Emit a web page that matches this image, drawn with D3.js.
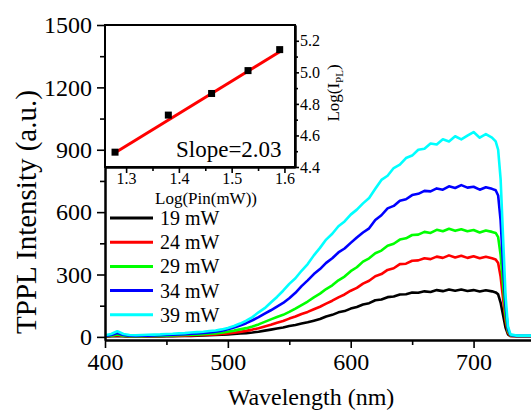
<!DOCTYPE html>
<html>
<head>
<meta charset="utf-8">
<script src="https://cdn.jsdelivr.net/npm/d3@7"></script>
<style>
  body { margin: 0; background: #fff; }
  svg { display: block; font-family: 'Liberation Serif', 'Times New Roman', serif; }
</style>
</head>
<body>
<div id="chart"></div>
<script>
// spectra (nm / a.u.)
let wavelength = [400, 405, 410, 415, 420, 425, 430, 435, 440, 445, 450, 455, 460, 465, 470, 475, 480, 485, 490, 495,
  500, 505, 510, 515, 520, 525, 530, 535, 540, 545, 550, 555, 560, 565, 570, 575, 580, 585, 590, 595,
  600, 605, 610, 615, 620, 625, 630, 635, 640, 645, 650, 655, 660, 665, 670, 675, 680, 685, 690, 695,
  700, 705, 710, 715, 718, 720, 722, 724, 726, 728, 730, 735, 740, 745, 750];

let p19 = [1, 3, 5, 3, 1, 1, 1, 2, 2, 2, 3, 3, 4, 4, 5, 6, 7, 8, 9, 10,
  12, 14, 16, 18, 21, 25, 30, 35, 40, 45, 52, 57, 64, 70, 78, 86, 98, 106, 118, 124,
  136, 144, 156, 162, 176, 180, 191, 194, 204, 205, 213, 212, 219, 216, 225, 220, 228, 222, 228, 221,
  225, 218, 224, 219, 214, 205, 165, 105, 45, 12, 4, 3, 3, 3, 3];

let p24 = [2, 4, 8, 4, 2, 2, 2, 3, 3, 3, 4, 4, 5, 6, 7, 8, 9, 10, 12, 14,
  17, 20, 24, 29, 35, 42, 50, 58, 68, 76, 88, 98, 110, 120, 133, 145, 160, 174, 190, 204,
  222, 236, 256, 270, 292, 302, 322, 330, 350, 352, 366, 368, 378, 374, 386, 380, 392, 382, 390, 380,
  388, 378, 385, 378, 372, 355, 290, 185, 80, 20, 5, 3, 3, 3, 3];

let p29 = [3, 6, 12, 6, 3, 3, 3, 4, 4, 5, 6, 7, 8, 9, 10, 11, 13, 15, 17, 20,
  25, 30, 36, 42, 50, 60, 72, 84, 96, 106, 120, 136, 153, 170, 190, 208, 230, 248, 272, 290,
  316, 335, 362, 378, 402, 415, 438, 448, 468, 474, 490, 492, 505, 500, 515, 508, 520, 510, 518, 508,
  514, 502, 512, 505, 500, 480, 395, 250, 105, 28, 7, 4, 4, 4, 4];

let p34 = [5, 9, 19, 9, 6, 5, 6, 6, 7, 8, 9, 10, 12, 13, 15, 17, 19, 21, 25, 30,
  37, 45, 55, 66, 80, 95, 112, 128, 146, 163, 186, 212, 244, 272, 302, 326, 356, 378, 406, 425,
  452, 478, 502, 522, 562, 585, 618, 630, 655, 662, 682, 688, 702, 700, 714, 708, 724, 716, 730, 718,
  722, 708, 720, 712, 705, 680, 560, 350, 150, 38, 9, 5, 5, 5, 5];

let p39 = [8, 14, 27, 14, 9, 8, 9, 10, 11, 12, 14, 15, 17, 18, 21, 23, 25, 28, 31, 36,
  43, 52, 64, 78, 95, 118, 138, 165, 192, 222, 255, 282, 318, 350, 392, 428, 468, 496, 532, 555,
  588, 612, 642, 668, 712, 755, 775, 812, 828, 860, 872, 900, 905, 930, 925, 950, 940, 965, 950, 968,
  985, 958, 975, 958, 940, 900, 760, 480, 200, 50, 12, 6, 6, 6, 6];

let labels = ['19 mW', '24 mW', '29 mW', '34 mW', '39 mW'];
let colors = ['#000000', '#ff0000', '#00ff00', '#0000ff', '#00ffff'];

let yTicks = [0, 300, 600, 900, 1200, 1500];
let yMinor = [150, 450, 750, 1050, 1350];
let xTicks = [400, 500, 600, 700];
let xMinor = [450, 550, 650, 750];

// inset: log-log power dependence
let logPin = [1.279, 1.380, 1.462, 1.531, 1.591];
let logIpl = [4.494, 4.729, 4.866, 5.011, 5.144];
let fitX = [1.279, 1.591];
let fitY = [4.49, 5.13];
let insetXTicks = [1.3, 1.4, 1.5, 1.6];
let insetXMinor = [1.35, 1.45, 1.55];
let insetYTicks = [4.4, 4.6, 4.8, 5.0, 5.2];
let insetYMinor = [4.5, 4.7, 4.9, 5.1];

let W = 531, H = 416;
let m = {left: 105, top: 25, bottom: 340, right: 535};

let svg = d3.select('#chart').append('svg')
  .attr('width', W)
  .attr('height', H);

svg.append('rect').attr('width', W).attr('height', H).attr('fill', '#fff');

let x = d3.scaleLinear().domain([400, 750]).range([m.left, m.right]);
let y = d3.scaleLinear().domain([-15, 1500]).range([m.bottom, m.top]);

svg.append('clipPath').attr('id', 'plot')
  .append('rect')
    .attr('x', m.left).attr('y', m.top - 5)
    .attr('width', m.right - m.left).attr('height', m.bottom - m.top + 5);

let line = d3.line()
  .x(d => x(d[0]))
  .y(d => y(d[1]));

let data = [p19, p24, p29, p34, p39].map((vals, i) => ({
  label: labels[i],
  color: colors[i],
  points: wavelength.map((w, j) => [w, vals[j]])
}));

svg.append('g')
  .attr('clip-path', 'url(#plot)')
  .selectAll('path')
  .data(data)
  .enter().append('path')
    .attr('d', d => line(d.points))
    .attr('fill', 'none')
    .attr('stroke', d => d.color)
    .attr('stroke-width', 2.6)
    .attr('stroke-linejoin', 'round');

function styleAxis(g, size) {
  g.select('.domain').attr('stroke', '#000').attr('stroke-width', 2);
  g.selectAll('.tick line').attr('stroke', '#000').attr('stroke-width', 1.6);
  g.selectAll('.tick text')
    .attr('fill', '#000')
    .style('font-size', size + 'px')
    .style('font-family', "'Liberation Serif', 'Times New Roman', serif");
}

// main axes
svg.append('g')
  .attr('transform', `translate(0,${m.bottom})`)
  .call(d3.axisBottom(x).tickValues(xMinor).tickSize(5).tickSizeOuter(0).tickFormat(''))
  .call(g => styleAxis(g, 24));
svg.append('g')
  .attr('transform', `translate(0,${m.bottom})`)
  .call(d3.axisBottom(x).tickValues(xTicks).tickSize(8).tickPadding(5).tickSizeOuter(0).tickFormat(d3.format('d')))
  .call(g => styleAxis(g, 24));

svg.append('g')
  .attr('transform', `translate(${m.left},0)`)
  .call(d3.axisLeft(y).tickValues(yMinor).tickSize(5).tickSizeOuter(0).tickFormat(''))
  .call(g => styleAxis(g, 24));
svg.append('g')
  .attr('transform', `translate(${m.left},0)`)
  .call(d3.axisLeft(y).tickValues(yTicks).tickSize(8).tickPadding(5).tickSizeOuter(0).tickFormat(d3.format('d')))
  .call(g => styleAxis(g, 24));

svg.append('text')
  .attr('x', 311)
  .attr('y', 405)
  .attr('text-anchor', 'middle')
  .style('font-size', '24px')
  .text('Wavelength (nm)');

svg.append('text')
  .attr('transform', 'translate(36,212) rotate(-90)')
  .attr('text-anchor', 'middle')
  .style('font-size', '29px')
  .text('TPPL Intensity (a.u.)');

// legend
let legend = svg.append('g')
  .selectAll('g')
  .data(data)
  .enter().append('g')
    .attr('transform', (d, i) => `translate(110,${218 + i * 24.2})`);
legend.append('line')
  .attr('x1', 0).attr('x2', 43)
  .attr('stroke', d => d.color)
  .attr('stroke-width', 3);
legend.append('text')
  .attr('x', 50)
  .attr('dy', '0.35em')
  .style('font-size', '20px')
  .text(d => d.label);

// inset
let iw = 190, ih = 142;
let inset = svg.append('g').attr('transform', `translate(${m.left},${m.top})`);
inset.append('rect')
  .attr('width', iw).attr('height', ih)
  .attr('fill', '#fff');

let ix = d3.scaleLinear().domain([1.26, 1.62]).range([0, iw]);
let iy = d3.scaleLinear().domain([4.4, 5.3]).range([ih, 0]);

inset.append('line')
  .attr('x1', ix(fitX[0])).attr('y1', iy(fitY[0]))
  .attr('x2', ix(fitX[1])).attr('y2', iy(fitY[1]))
  .attr('stroke', '#ff0000')
  .attr('stroke-width', 3);

inset.selectAll('.pt')
  .data(logPin.map((v, i) => [v, logIpl[i]]))
  .enter().append('rect')
    .attr('class', 'pt')
    .attr('x', d => ix(d[0]) - 3.5)
    .attr('y', d => iy(d[1]) - 3.5)
    .attr('width', 7).attr('height', 7)
    .attr('fill', '#000');

inset.append('g')
  .attr('transform', `translate(0,${ih})`)
  .call(d3.axisBottom(ix).tickValues(insetXMinor).tickSize(4).tickSizeOuter(0).tickFormat(''))
  .call(g => styleAxis(g, 16));
inset.append('g')
  .attr('transform', `translate(0,${ih})`)
  .call(d3.axisBottom(ix).tickValues(insetXTicks).tickSize(6).tickPadding(0).tickSizeOuter(0).tickFormat(d3.format('.1f')))
  .call(g => styleAxis(g, 16));
inset.append('g')
  .attr('transform', `translate(${iw},0)`)
  .call(d3.axisRight(iy).tickValues(insetYMinor).tickSize(3).tickSizeOuter(0).tickFormat(''))
  .call(g => styleAxis(g, 16));
inset.append('g')
  .attr('transform', `translate(${iw},0)`)
  .call(d3.axisRight(iy).tickValues(insetYTicks).tickSize(4).tickPadding(1).tickSizeOuter(0).tickFormat(d3.format('.1f')))
  .call(g => styleAxis(g, 16));

inset.append('rect')
  .attr('width', iw).attr('height', ih)
  .attr('fill', 'none')
  .attr('stroke', '#000')
  .attr('stroke-width', 2);

inset.append('text')
  .attr('x', 71)
  .attr('y', 132)
  .style('font-size', '23px')
  .text('Slope=2.03');

inset.append('text')
  .attr('x', 101)
  .attr('y', 179)
  .attr('text-anchor', 'middle')
  .style('font-size', '17px')
  .text('Log(Pin(mW))');

let ylab = inset.append('text')
  .attr('transform', 'translate(234,68) rotate(-90)')
  .attr('text-anchor', 'middle')
  .style('font-size', '17px');
ylab.append('tspan').text('Log(I');
ylab.append('tspan').attr('dy', 4).style('font-size', '11px').text('PL');
ylab.append('tspan').attr('dy', -4).text(')');
</script>
</body>
</html>
